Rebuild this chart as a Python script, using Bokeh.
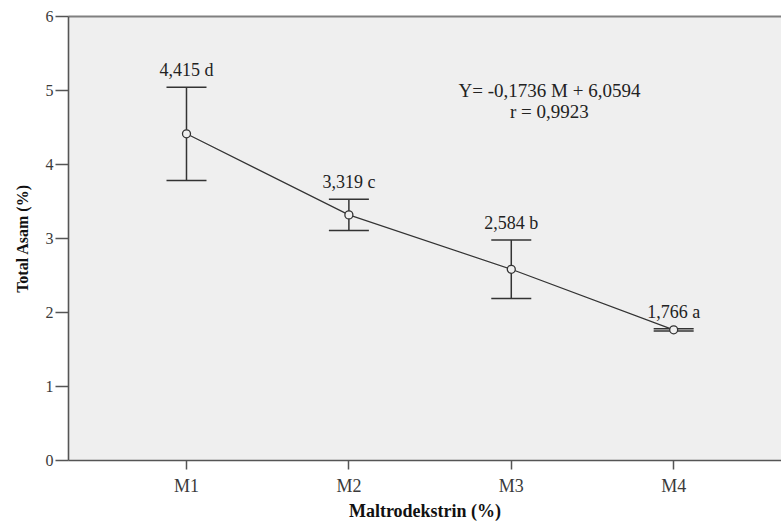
from bokeh.plotting import figure
from bokeh.models import (Range1d, FixedTicker, LinearAxis, Whisker, TeeHead,
                          ColumnDataSource, Label)
from bokeh.embed import file_html
from bokeh.resources import INLINE

# ---- data ----
categories = ["M1", "M2", "M3", "M4"]
positions = [1, 2, 3, 4]
means = [4.415, 3.319, 2.584, 1.766]
errors = [0.63, 0.21, 0.395, 0.015]
letters = ["d", "c", "b", "a"]
y_ticks = [0, 1, 2, 3, 4, 5, 6]
equation = "Y= -0,1736 M + 6,0594"
r_text = "r = 0,9923"

upper = [m + e for m, e in zip(means, errors)]
lower = [m - e for m, e in zip(means, errors)]
labels = [("%.3f" % m).replace(".", ",") + " " + l for m, l in zip(means, letters)]

src = ColumnDataSource(dict(x=positions, y=means, upper=upper, lower=lower, label=labels))

SERIF = "Liberation Serif"
INK = "#333333"

p = figure(width=781, height=523, output_backend="svg", toolbar_location=None,
           x_range=Range1d(0.2734, 4.664), y_range=Range1d(0, 6),
           min_border_left=68, min_border_right=0, min_border_top=16,
           min_border_bottom=56)
p.background_fill_color = "#efefef"
p.border_fill_color = "white"
p.outline_line_color = None
p.xgrid.visible = False
p.ygrid.visible = False

# axes
p.xaxis.ticker = FixedTicker(ticks=positions)
p.xaxis.major_label_overrides = {pos: c for pos, c in zip(positions, categories)}
p.yaxis.ticker = FixedTicker(ticks=y_ticks)
for ax in (p.xaxis[0], p.yaxis[0]):
    ax.axis_line_color = "#555555"
    ax.axis_line_width = 1.6
    ax.major_tick_line_color = "#555555"
    ax.major_tick_line_width = 1.5
    ax.major_tick_in = 0
    ax.minor_tick_line_color = None
    ax.major_label_text_font = SERIF
    ax.major_label_text_color = "#3a3a3a"
    ax.axis_label_text_font = SERIF
    ax.axis_label_text_font_style = "bold"
    ax.axis_label_text_color = "#111111"
p.xaxis.major_tick_out = 9
p.xaxis.major_label_standoff = 6
p.xaxis.major_label_text_font_size = "18px"
p.xaxis.axis_label = "Maltrodekstrin (%)"
p.xaxis.axis_label_text_font_size = "18px"
p.xaxis.axis_label_standoff = 2
p.yaxis.major_tick_out = 13
p.yaxis.major_label_standoff = 2
p.yaxis.major_label_text_font_size = "16px"
p.yaxis.axis_label = "Total Asam (%)"
p.yaxis.axis_label_text_font_size = "16px"
p.yaxis.axis_label_standoff = 12

# top border line
top = LinearAxis(ticker=FixedTicker(ticks=[]), axis_line_color="#808080",
                 axis_line_width=2, major_tick_line_color=None,
                 minor_tick_line_color=None, major_label_standoff=0,
                 major_tick_out=0, major_label_text_font_size="0px")
p.add_layout(top, "above")

# error bars
wh = Whisker(source=src, base="x", upper="upper", lower="lower",
             line_color=INK, line_width=1.5,
             upper_head=TeeHead(size=40, line_color=INK, line_width=1.5),
             lower_head=TeeHead(size=40, line_color=INK, line_width=1.5))
p.add_layout(wh)

# line + markers
p.line("x", "y", source=src, line_color=INK, line_width=1.2)
p.scatter("x", "y", source=src, marker="circle", size=8, fill_color="#efefef",
          line_color=INK, line_width=1.3)

# value labels
p.text(x="x", y="upper", text="label", source=src, text_align="center",
       text_baseline="bottom", y_offset=-7, text_font={"value": SERIF},
       text_font_size={"value": "18px"}, text_color="#222222")

# regression equation
p.add_layout(Label(x=3.235, y=5.004, text=equation, text_align="center",
                   text_baseline="middle", text_font=SERIF,
                   text_font_size="19px", text_color="#222222"))
p.add_layout(Label(x=3.235, y=4.711, text=r_text, text_align="center",
                   text_baseline="middle", text_font=SERIF,
                   text_font_size="19px", text_color="#222222"))

open("out.html", "w").write(file_html(p, INLINE))
